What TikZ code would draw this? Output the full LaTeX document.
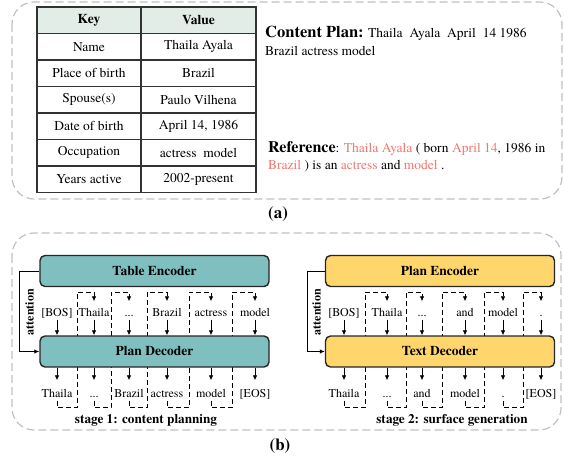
\documentclass[tikz,border=0pt]{standalone}
\usepackage{fontspec}
\setmainfont{texgyretermes}[Extension=.otf, UprightFont=*-regular, BoldFont=*-bold,
  ItalicFont=*-italic, BoldItalicFont=*-bolditalic]
\usetikzlibrary{arrows.meta}
\definecolor{encteal}{RGB}{128,191,191}
\definecolor{encgold}{RGB}{255,214,107}
\definecolor{headgray}{RGB}{226,237,231}
\definecolor{hilite}{RGB}{240,118,112}
\definecolor{framegray}{RGB}{192,192,192}
\tikzset{
  panel/.style={draw=framegray, line width=1.2pt, dash pattern=on 8pt off 4pt, rounded corners=22pt},
  module/.style={draw=black!85, line width=1.4pt, rounded corners=5pt, minimum width=229pt, minimum height=31pt,
    font=\fontsize{13.5}{16}\selectfont\bfseries},
  token/.style={inner sep=1pt, text height=8.5pt, text depth=2.5pt, font=\fontsize{12}{14}\selectfont},
  cell/.style={font=\fontsize{13.5}{16}\selectfont},
  headcell/.style={font=\fontsize{13.5}{16}\selectfont\bfseries},
  tokarrow/.style={-{Latex[length=5pt,width=4.5pt]}, line width=0.8pt},
  feedline/.style={tokarrow, dash pattern=on 5pt off 3pt, shorten >=5pt},
  stagelabel/.style={font=\fontsize{13.2}{16}\selectfont\bfseries},
  sublabel/.style={font=\fontsize{17}{20}\selectfont\bfseries},
}
\begin{document}
\begin{tikzpicture}[x=1pt,y=-1pt]
  \useasboundingbox (0,0) rectangle (564,459);
  % the two dashed panels
  \draw[panel] (12,2) rectangle (562,199);
  \draw[panel] (12,233) rectangle (561,430);
  % drawing the table
  \fill[headgray] (37,7) rectangle (256,33.5);
  \draw[line width=1.2pt, black!80] (37,7) rectangle (256,192.5);
  \draw[line width=1.2pt, black!80] (141,7) -- (141,192.5);
  \foreach \y in {33.5,60,86.5,113,139.5,166}
    \draw[line width=1.2pt, black!80] (37,\y) -- (256,\y);
  \node[headcell] (keyhead) at (89,20.25)    {Key};
  \node[headcell] (valhead) at (198.5,20.25) {Value};
  \node[cell] (key1) at (89,46.75)  {Name};
  \node[cell] (key2) at (89,73.25)  {Place of birth};
  \node[cell] (key3) at (89,99.75)  {Spouse(s)};
  \node[cell] (key4) at (89,126.25) {Date of birth};
  \node[cell] (key5) at (89,152.75) {Occupation};
  \node[cell] (key6) at (89,179.25) {Years active};
  \node[cell] (val1) at (198.5,46.75)  {Thaila Ayala};
  \node[cell] (val2) at (198.5,73.25)  {Brazil};
  \node[cell] (val3) at (198.5,99.75)  {Paulo Vilhena};
  \node[cell] (val4) at (198.5,126.25) {April 14, 1986};
  \node[cell] (val5) at (198.5,152.75) {actress\ \ model};
  \node[cell] (val6) at (198.5,179.25) {2002-present};
  % content plan and reference text
  \node[cell, anchor=base west, inner sep=0pt] (plan1) at (265,37.5)
    {{\fontsize{16.5}{18}\selectfont\bfseries Content Plan:} Thaila\hspace{3.5pt} Ayala\hspace{3.5pt} April\hspace{3.5pt} 14 1986};
  \node[cell, anchor=base west, inner sep=0pt] (plan2) at (265,55) {Brazil actress model};
  \node[cell, anchor=base west, inner sep=0pt] (ref1) at (268,152)
    {{\fontsize{16}{18}\selectfont\bfseries Reference}: \textcolor{hilite}{Thaila Ayala} ( born \textcolor{hilite}{April 14}, 1986 in};
  \node[cell, anchor=base west, inner sep=0pt] (ref2) at (268,169.5)
    {\textcolor{hilite}{Brazil} ) is an \textcolor{hilite}{actress} and \textcolor{hilite}{model} .};
  \node[sublabel] (suba) at (278,214) {(a)};
  % stage 1 tokens
  \node[token] (lin1) at (57,313)  {[BOS]};
  \node[token] (lin2) at (94,313)  {Thaila};
  \node[token] (lin3) at (129,313) {...};
  \node[token] (lin4) at (167,313) {Brazil};
  \node[token] (lin5) at (211,313) {actress};
  \node[token] (lin6) at (255,313) {model};
  \node[token] (lout1) at (57,394)  {Thaila};
  \node[token] (lout2) at (94,394)  {...};
  \node[token] (lout3) at (129,394) {Brazil};
  \node[token] (lout4) at (167,394) {actress};
  \node[token] (lout5) at (211,394) {model};
  \node[token] (lout6) at (255,394) {[EOS]};
  % stage 2 tokens
  \node[token] (rin1) at (344,313) {[BOS]};
  \node[token] (rin2) at (387,313) {Thaila};
  \node[token] (rin3) at (422,313) {...};
  \node[token] (rin4) at (465,313) {and};
  \node[token] (rin5) at (503,313) {model};
  \node[token] (rin6) at (541,313) {.};
  \node[token] (rout1) at (344,394) {Thaila};
  \node[token] (rout2) at (387,394) {...};
  \node[token] (rout3) at (422,394) {and};
  \node[token] (rout4) at (465,394) {model};
  \node[token] (rout5) at (503,394) {.};
  \node[token] (rout6) at (541,394) {[EOS]};
  % turning points of the feedback lines
  \coordinate (lturn1) at (77,292);
  \coordinate (lturn2) at (111,292);
  \coordinate (lturn3) at (147,292);
  \coordinate (lturn4) at (189,292);
  \coordinate (lturn5) at (232,292);
  \coordinate (rturn1) at (365,292);
  \coordinate (rturn2) at (406,292);
  \coordinate (rturn3) at (442,292);
  \coordinate (rturn4) at (484,292);
  \coordinate (rturn5) at (523,292);
  % feeding each output back as the next input (behind the blocks)
  \foreach \i/\j in {1/2,2/3,3/4,4/5,5/6} {
    \draw[feedline] (lout\i.south) -- ++(0,7) -| (lturn\i) -| (lin\j.north);
    \draw[feedline] (rout\i.south) -- ++(0,7) -| (rturn\i) -| (rin\j.north);
  }
  % encoder and decoder blocks
  \node[module, fill=encteal] (tenc) at (154.5,271)   {Table Encoder};
  \node[module, fill=encteal] (pdec) at (154.5,351.5) {Plan Decoder};
  \node[module, fill=encgold] (penc) at (440,271)     {Plan Encoder};
  \node[module, fill=encgold] (tdec) at (440,351.5)   {Text Decoder};
  % attention links
  \draw[tokarrow, line width=1pt] (tenc.west) -- ++(-20,0) |- (pdec.west);
  \draw[tokarrow, line width=1pt] (penc.west) -- ++(-17,0) |- (tdec.west);
  \node[stagelabel, font=\fontsize{12}{14}\selectfont\bfseries, rotate=90] (attn1) at (29.5,312)  {attention};
  \node[stagelabel, font=\fontsize{12}{14}\selectfont\bfseries, rotate=90] (attn2) at (316.5,312) {attention};
  % token arrows
  \foreach \i in {1,...,6} {
    \draw[tokarrow] (lin\i.south) -- (lin\i.south |- pdec.north);
    \draw[tokarrow, shorten >=7pt] (lout\i.north |- pdec.south) -- (lout\i.north);
    \draw[tokarrow] (rin\i.south) -- (rin\i.south |- tdec.north);
    \draw[tokarrow, shorten >=7pt] (rout\i.north |- tdec.south) -- (rout\i.north);
  }
  \node[stagelabel] (stage1) at (146,420) {stage 1: content planning};
  \node[stagelabel] (stage2) at (452,420) {stage 2: surface generation};
  \node[sublabel] (subb) at (280,446) {(b)};
\end{tikzpicture}
\end{document}
